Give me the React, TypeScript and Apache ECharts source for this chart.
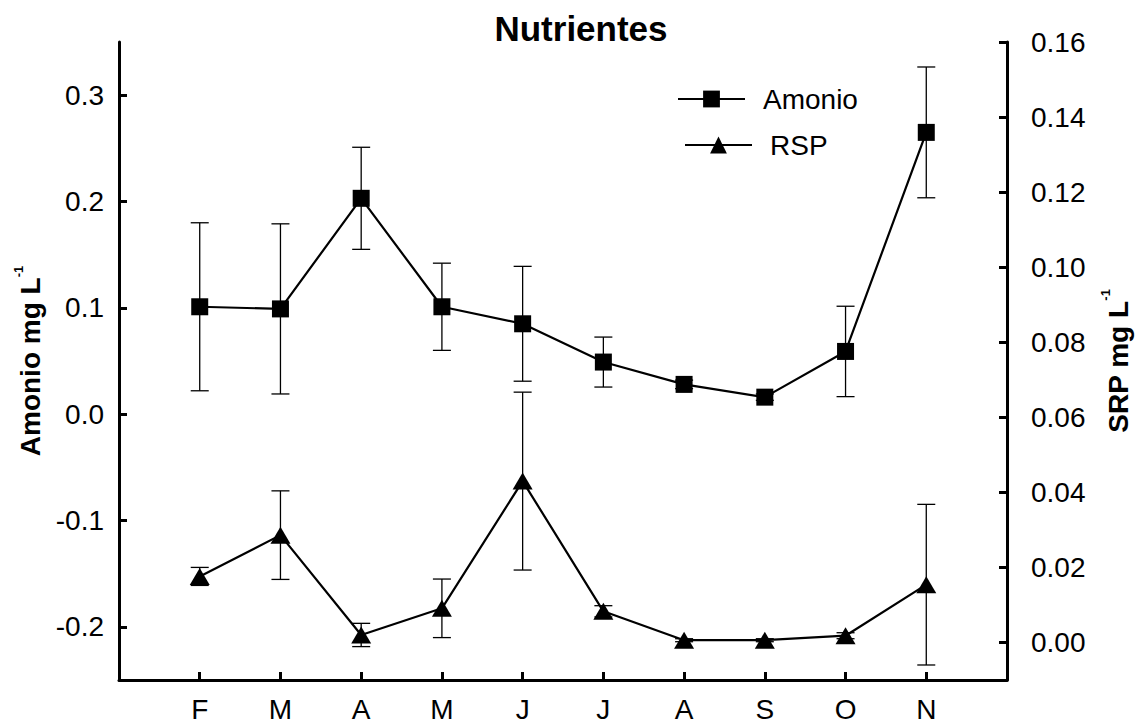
import React, { useEffect, useRef } from "react";
import * as echarts from "echarts";

// Monthly sampling (Feb–Nov)
const months = ["F", "M", "A", "M", "J", "J", "A", "S", "O", "N"];

// Ammonium, mg/L (mean ± error)
const amonio = [0.101, 0.099, 0.203, 0.101, 0.085, 0.049, 0.028, 0.016, 0.059, 0.265];
const amonioErr = [0.079, 0.08, 0.048, 0.041, 0.054, 0.0235, 0.004, 0.003, 0.0425, 0.0615];

// Soluble reactive phosphorus, mg/L (mean ± error)
const rsp = [0.0176, 0.0286, 0.002, 0.0091, 0.043, 0.0083, 0.0006, 0.0006, 0.0018, 0.0154];
const rspErr = [0.0024, 0.0118, 0.0031, 0.0078, 0.0237, 0.0015, 0.0004, 0.0004, 0.0008, 0.0214];

// Tick positions
const amonioTicks = [-0.2, -0.1, 0, 0.1, 0.2, 0.3];
const rspTicks = [0, 0.02, 0.04, 0.06, 0.08, 0.1, 0.12, 0.14, 0.16];
const monthTicks = months.map((_, i) => i + 1);

const FONT = "'Liberation Sans', Arial, Helvetica, sans-serif";
const BLACK = "#000";

function errorBars(values: number[], errs: number[]) {
  return values.map((v, i) => [i + 1, v, errs[i]]);
}

function renderErrorBar(params: any, api: any) {
  const x = api.value(0);
  const v = api.value(1);
  const e = api.value(2);
  const top = api.coord([x, v + e]);
  const bot = api.coord([x, v - e]);
  const half = 9;
  const style = { stroke: BLACK, lineWidth: 1.3 };
  return {
    type: "group",
    children: [
      { type: "line", shape: { x1: top[0], y1: top[1], x2: bot[0], y2: bot[1] }, style },
      { type: "line", shape: { x1: top[0] - half, y1: top[1], x2: top[0] + half, y2: top[1] }, style },
      { type: "line", shape: { x1: bot[0] - half, y1: bot[1], x2: bot[0] + half, y2: bot[1] }, style },
    ],
  };
}

// Bold axis title with a small superscript exponent
const axisNameStyle = {
  fontFamily: FONT,
  color: BLACK,
  rich: {
    b: { fontFamily: FONT, fontSize: 28, fontWeight: "bold", color: BLACK, lineHeight: 38, verticalAlign: "middle" },
    s: { fontFamily: FONT, fontSize: 13, fontWeight: "bold", color: BLACK, lineHeight: 13, verticalAlign: "top" },
  },
};

export default function App() {
  const ref = useRef<HTMLDivElement>(null);

  useEffect(() => {
    if (!ref.current) return;
    const chart = echarts.init(ref.current, null, { renderer: "svg" });

    const axisLine = { show: true, onZero: false, lineStyle: { color: BLACK, width: 3 } };
    const axisTick = { show: true, inside: true, length: 8, lineStyle: { color: BLACK, width: 3 } };
    const labelBase = { color: BLACK, fontFamily: FONT, fontSize: 28 };

    chart.setOption({
      animation: false,
      backgroundColor: "#fff",
      title: {
        text: "Nutrientes",
        left: 581,
        top: 11,
        padding: 0,
        textAlign: "center",
        textStyle: { fontFamily: FONT, fontSize: 35, fontWeight: "bold", color: BLACK },
      },
      legend: [
        {
          data: ["Amonio"],
          left: 677,
          top: 85,
          padding: 0,
          itemWidth: 67,
          itemHeight: 21,
          selectedMode: false,
          textStyle: { fontFamily: FONT, fontSize: 28, color: BLACK, padding: [0, 0, 0, 13] },
        },
        {
          data: ["RSP"],
          left: 684,
          top: 131,
          padding: 0,
          itemWidth: 67,
          itemHeight: 21,
          selectedMode: false,
          textStyle: { fontFamily: FONT, fontSize: 28, color: BLACK, padding: [0, 0, 0, 13] },
        },
      ],
      grid: {
        left: 119,
        right: 130,
        top: 42,
        bottom: 45,
        containLabel: false,
        outerBoundsMode: "none",
      },
      xAxis: {
        type: "value",
        min: 0,
        max: 11,
        interval: 1,
        splitLine: { show: false },
        axisLine,
        axisTick: { ...axisTick, customValues: monthTicks },
        axisLabel: {
          ...labelBase,
          margin: 15,
          customValues: monthTicks,
          formatter: (v: number) => months[Math.round(v) - 1] ?? "",
        },
      },
      yAxis: [
        {
          type: "value",
          position: "left",
          min: -0.25,
          max: 0.35,
          splitLine: { show: false },
          axisLine,
          axisTick: { ...axisTick, customValues: amonioTicks },
          axisLabel: {
            ...labelBase,
            margin: 15,
            customValues: amonioTicks,
            formatter: (v: number) => v.toFixed(1),
          },
          name: "{b|Amonio mg L}{s|-1}",
          nameLocation: "middle",
          nameGap: 68,
          nameTextStyle: axisNameStyle,
        },
        {
          type: "value",
          position: "right",
          min: -0.01,
          max: 0.16,
          splitLine: { show: false },
          axisLine,
          axisTick: { ...axisTick, customValues: rspTicks },
          axisLabel: {
            ...labelBase,
            margin: 24,
            customValues: rspTicks,
            formatter: (v: number) => v.toFixed(2),
          },
          name: "{b|SRP mg L}{s|-1}",
          nameLocation: "middle",
          nameGap: 92,
          nameTextStyle: axisNameStyle,
        },
      ],
      series: [
        {
          name: "Amonio error",
          type: "custom",
          yAxisIndex: 0,
          data: errorBars(amonio, amonioErr),
          encode: { x: 0, y: 1 },
          renderItem: renderErrorBar,
          silent: true,
          z: 1,
        },
        {
          name: "RSP error",
          type: "custom",
          yAxisIndex: 1,
          data: errorBars(rsp, rspErr),
          encode: { x: 0, y: 1 },
          renderItem: renderErrorBar,
          silent: true,
          z: 1,
        },
        {
          name: "Amonio",
          type: "line",
          yAxisIndex: 0,
          data: amonio.map((v, i) => [i + 1, v]),
          symbol: "rect",
          symbolSize: 17,
          lineStyle: { color: BLACK, width: 2.2 },
          itemStyle: { color: BLACK },
          z: 3,
        },
        {
          name: "RSP",
          type: "line",
          yAxisIndex: 1,
          data: rsp.map((v, i) => [i + 1, v]),
          symbol: "triangle",
          symbolSize: [20, 17],
          lineStyle: { color: BLACK, width: 2.2 },
          itemStyle: { color: BLACK },
          z: 3,
        },
      ],
    });

    return () => chart.dispose();
  }, []);

  return (
    <div
      ref={ref}
      style={{ position: "fixed", left: 0, top: 0, width: 1137, height: 725, background: "#fff" }}
    />
  );
}
